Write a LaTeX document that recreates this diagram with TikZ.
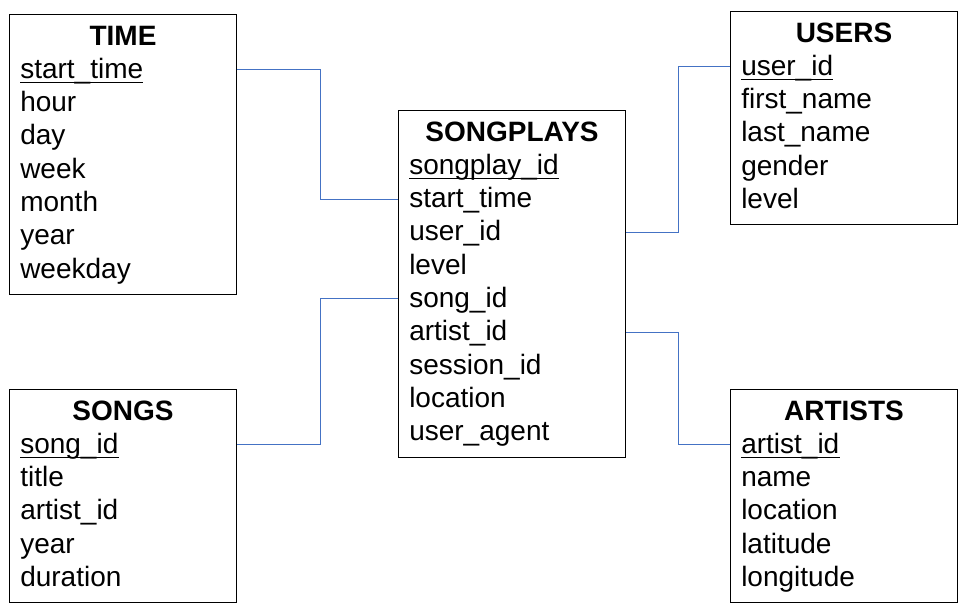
\documentclass[tikz,border=0pt]{standalone}
\usepackage{fontspec}
\setmainfont{Liberation Sans}
\usetikzlibrary{calc}
\definecolor{linkblue}{RGB}{68,114,196}
\begin{document}
\begin{tikzpicture}[x=0.75pt,y=-0.75pt,
    font=\fontsize{21}{25}\selectfont,
    table/.style={draw,line width=0.75pt,anchor=north west,minimum width=170.25pt,inner sep=0pt},
    head/.style={anchor=base,inner sep=0pt,font=\fontsize{21}{25}\selectfont\bfseries},
    field/.style={anchor=base west,inner sep=0pt,text height=17pt,text depth=4pt},
    key/.style={line width=1.2pt},
    link/.style={draw=linkblue,line width=0.75pt}]
  \useasboundingbox (0,0) rectangle (965,612);

  % TIME
  \node [table,minimum height=210pt] (time) at (9,14) {};
  \node [head] (time0) at ($(time.north)+(0,31)$) {TIME};
  \foreach \f [count=\i] in {start\_time,hour,day,week,month,year,weekday}
    \node [field] (time\i) at ($(time.north west)+(11,{31+33.33*\i})$) {\f};

  % USERS
  \node [table,minimum height=159.75pt] (users) at (730,11) {};
  \node [head] (users0) at ($(users.north)+(0,31)$) {USERS};
  \foreach \f [count=\i] in {user\_id,first\_name,last\_name,gender,level}
    \node [field] (users\i) at ($(users.north west)+(11,{31+33.33*\i})$) {\f};

  % SONGPLAYS
  \node [table,minimum height=260.25pt] (songplays) at (398,110) {};
  \node [head] (songplays0) at ($(songplays.north)+(0,31)$) {SONGPLAYS};
  \foreach \f [count=\i] in {songplay\_id,start\_time,user\_id,level,song\_id,artist\_id,session\_id,location,user\_agent}
    \node [field] (songplays\i) at ($(songplays.north west)+(11,{31+33.33*\i})$) {\f};

  % SONGS
  \node [table,minimum height=159.75pt] (songs) at (9,389) {};
  \node [head] (songs0) at ($(songs.north)+(0,31)$) {SONGS};
  \foreach \f [count=\i] in {song\_id,title,artist\_id,year,duration}
    \node [field] (songs\i) at ($(songs.north west)+(11,{31+33.33*\i})$) {\f};

  % ARTISTS
  \node [table,minimum height=159.75pt] (artists) at (730,389) {};
  \node [head] (artists0) at ($(artists.north)+(0,31)$) {ARTISTS};
  \foreach \f [count=\i] in {artist\_id,name,location,latitude,longitude}
    \node [field] (artists\i) at ($(artists.north west)+(11,{31+33.33*\i})$) {\f};

  % primary keys
  \foreach \t in {time,users,songplays,songs,artists}
    \draw [key] ([yshift=-3pt]\t1.base west) -- ([yshift=-3pt]\t1.base east);

  % links
  \draw [link] (time.east |- time1) -- ++(83,0) |- (songplays.west |- songplays2);
  \draw [link] (songs.east |- songs1) -- ++(83,0) |- (songplays.west |- songplays5);
  \draw [link] (songplays.east |- songplays3) -- ++(52,0) |- (users.west |- users1);
  \draw [link] (songplays.east |- songplays6) -- ++(52,0) |- (artists.west |- artists1);
\end{tikzpicture}
\end{document}
